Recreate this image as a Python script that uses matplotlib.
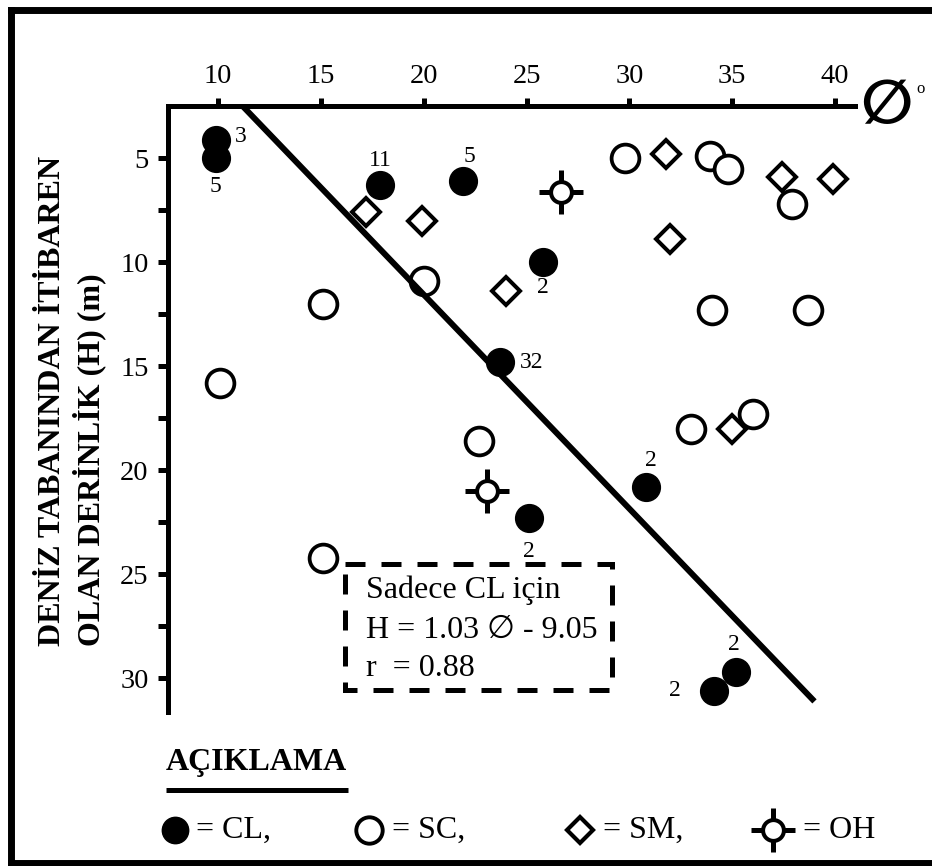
import numpy as np
import matplotlib.pyplot as plt
from matplotlib.lines import Line2D
from matplotlib.patches import Rectangle

plt.rcParams['font.family'] = ['Liberation Serif', 'DejaVu Sans']

# CL samples (phi in degrees, depth H in m) and sample counts
cl_phi = [9.9, 9.9, 17.9, 21.9, 25.8, 23.7, 30.8, 25.1, 35.2, 34.1]
cl_h = [4.1, 5.0, 6.3, 6.1, 10.0, 14.8, 20.8, 22.3, 29.7, 30.6]
cl_n = ['3', '5', '11', '5', '2', '32', '2', '2', '2', '2']

# SC samples
sc_phi = [10.1, 15.1, 15.1, 20.0, 22.7, 29.8, 33.9, 34.8, 37.9, 34.0, 38.7, 33.0, 36.0]
sc_h = [15.8, 12.0, 24.2, 10.9, 18.6, 5.0, 4.9, 5.5, 7.2, 12.3, 12.3, 18.0, 17.3]

# SM samples
sm_phi = [17.2, 19.9, 24.0, 31.8, 32.0, 37.4, 39.9, 35.0]
sm_h = [7.6, 8.0, 11.4, 4.8, 8.9, 5.9, 6.0, 18.0]

# OH samples
oh_phi = [26.7, 23.1]
oh_h = [6.6, 21.0]

# regression for CL only
slope = 1.03
intercept = -9.05
r_val = 0.88
line_phi = np.array([11.2, 39.0])

x_ticks = [10, 15, 20, 25, 30, 35, 40]
y_ticks = [5, 10, 15, 20, 25, 30]
y_minor = [7.5, 12.5, 17.5, 22.5, 27.5]

leg_labels = ['= CL,', '= SC,', '= SM,', '= OH']

# label offsets (points) for the CL counts
cl_off = [(18, 2), (0, -20), (0, 18), (5, 18), (0, -18), (23, 0),
          (3.5, 19), (0, -24), (-2, 20), (-28, 0)]

W, H = 932, 866
fig = plt.figure(figsize=(W / 100, H / 100), dpi=100)
ax = fig.add_axes([168 / W, 1 - 712 / H, (855 - 168) / W, (712 - 106) / H])


def fx(px):
    return px / W


def fy(py):
    return 1 - py / H


for side in ['bottom', 'right']:
    ax.spines[side].set_visible(False)
for side in ['top', 'left']:
    ax.spines[side].set_linewidth(3.6)
    ax.spines[side].set_capstyle('projecting')

ax.set_xlim(7.57, 40.97)
ax.set_ylim(31.63, 2.48)
ax.xaxis.tick_top()
ax.set_xticks(x_ticks)
ax.set_yticks(y_ticks)
ax.set_yticks(y_minor, minor=True)
ax.tick_params(axis='x', direction='out', length=6, width=3.6, pad=6, labelsize=20.5)
ax.tick_params(axis='y', which='both', direction='out', length=7, width=3.6, pad=7,
               labelsize=20.5)

# regression line
ax.plot(line_phi, slope * line_phi + intercept, color='black', lw=4.3,
        solid_capstyle='butt', zorder=6)

ax.plot(cl_phi, cl_h, 'o', ms=20, mfc='black', mec='black', zorder=4)
ax.plot(sm_phi, sm_h, 'D', ms=14, mfc='white', mec='black', mew=2.9, zorder=4)
ax.plot(sc_phi, sc_h, 'o', ms=20, mfc='white', mec='black', mew=2.7, zorder=5)
ax.plot(oh_phi, oh_h, '+', ms=32, mec='black', mew=3.6, zorder=4)
ax.plot(oh_phi, oh_h, 'o', ms=15, mfc='white', mec='black', mew=2.9, zorder=5)

for p, h, n, off in zip(cl_phi, cl_h, cl_n, cl_off):
    ax.annotate(n, (p, h), xytext=off, textcoords='offset points',
                ha='center', va='center', fontsize=17, zorder=7)

# dashed box with the equation
ax.add_patch(Rectangle((16.19, 24.49), 12.99, 6.09, fill=False, ec='black', lw=3.6,
                       ls=(0, (4, 3.2)), zorder=3))
box_lines = ['Sadece CL için',
             'H = %.2f \u2205 - %.2f' % (slope, abs(intercept)),
             'r  = %.2f' % r_val]
for txt, yy in zip(box_lines, [25.77, 27.69, 29.53]):
    ax.text(17.22, yy, txt, ha='left', va='center', fontsize=23, zorder=7)

# axis titles
fig.text(fx(886), fy(106), '\u2205', fontsize=44, family=['DejaVu Sans'],
         fontweight='bold', ha='center', va='center')
fig.text(fx(921), fy(89), 'o', fontsize=12, ha='center', va='center')
fig.text(fx(53), fy(646), 'DENİZ TABANINDAN İTİBAREN', rotation=90, fontsize=23,
         fontweight='bold', ha='center', va='bottom')
fig.text(fx(89), fy(646), 'OLAN DERİNLİK (H) (m)', rotation=90, fontsize=23,
         fontweight='bold', ha='center', va='bottom')

# legend block
fig.text(fx(166), fy(770), 'AÇIKLAMA', fontsize=23, fontweight='bold',
         ha='left', va='baseline')
fig.add_artist(Line2D([fx(166), fx(348)], [fy(789.5), fy(789.5)], color='black',
                      lw=3.6, solid_capstyle='butt', transform=fig.transFigure))

leg_style = [dict(marker='o', ms=19, mfc='black', mec='black'),
             dict(marker='o', ms=19, mfc='white', mec='black', mew=2.8),
             dict(marker='D', ms=13.5, mfc='white', mec='black', mew=3),
             None]
leg_mx = [175, 369, 580, 773]
leg_tx = [196, 392, 603, 803]
leg_y = 830
for lab, st, mx, tx in zip(leg_labels, leg_style, leg_mx, leg_tx):
    if st is None:
        fig.add_artist(Line2D([fx(mx)], [fy(leg_y)], marker='+', ms=32, mec='black',
                              mew=3.6, ls='none', transform=fig.transFigure))
        fig.add_artist(Line2D([fx(mx)], [fy(leg_y)], marker='o', ms=15, mfc='white',
                              mec='black', mew=2.9, ls='none', transform=fig.transFigure))
    else:
        fig.add_artist(Line2D([fx(mx)], [fy(leg_y)], ls='none',
                              transform=fig.transFigure, **st))
    fig.text(fx(tx), fy(leg_y), lab, fontsize=23, ha='left', va='center')

# outer frame
frame = dict(color='black', lw=5, solid_capstyle='projecting', transform=fig.transFigure)
fig.add_artist(Line2D([fx(10.5), 1.01], [fy(9.5), fy(9.5)], **frame))
fig.add_artist(Line2D([fx(10.5), fx(10.5)], [fy(9.5), -0.01], **frame))
fig.add_artist(Line2D([fx(10.5), 1.01], [fy(863), fy(863)], **frame))

fig.savefig('out.png', dpi=100)
